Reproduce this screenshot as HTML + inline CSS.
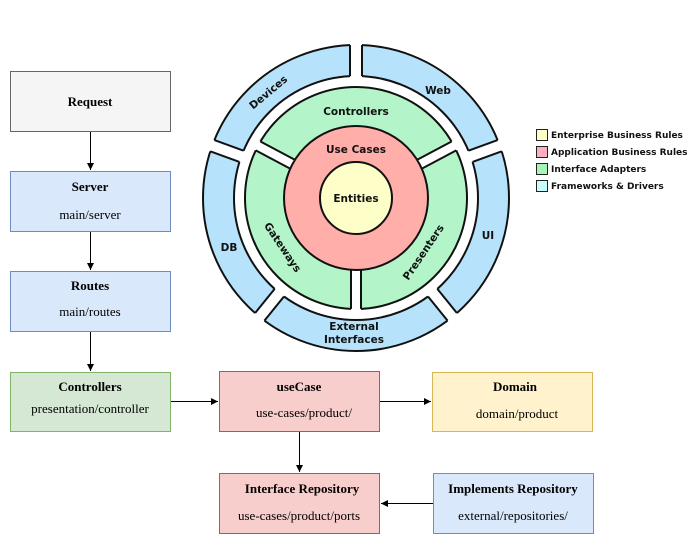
<!DOCTYPE html>
<html><head><meta charset="utf-8"><style>
body{margin:0;background:#fff;}
svg{display:block;}
.t{font-family:"Liberation Serif",serif;font-size:13px;text-anchor:middle;fill:#000;}
.b{font-weight:bold;}
.o{font-family:"DejaVu Sans",sans-serif;font-weight:bold;font-size:10.5px;text-anchor:middle;fill:#111;}
.l{font-family:"DejaVu Sans",sans-serif;font-weight:bold;font-size:9px;fill:#111;}
</style></head><body>
<svg width="699" height="544" viewBox="0 0 699 544" xmlns="http://www.w3.org/2000/svg">
<defs>
<marker id="a" markerWidth="8" markerHeight="8" refX="7" refY="4" orient="auto" markerUnits="userSpaceOnUse"><path d="M0,0.5 L7,4 L0,7.5 Z" fill="#000"/></marker>
<g id="bg">
<rect x="470" y="192" width="48" height="12" fill="#fff"/>
<line x1="477.85" y1="192" x2="508.88" y2="192" stroke="#111" stroke-width="2"/>
<line x1="477.85" y1="204" x2="508.88" y2="204" stroke="#111" stroke-width="2"/>
</g>
<g id="gg">
<rect x="400" y="193" width="72" height="10" fill="#fff"/>
<line x1="400" y1="193" x2="466.89" y2="193" stroke="#111" stroke-width="2"/>
<line x1="400" y1="203" x2="466.89" y2="203" stroke="#111" stroke-width="2"/>
</g>
</defs>
<!-- blue ring -->
<circle cx="356" cy="198" r="153" fill="#b6e3fb" stroke="#111" stroke-width="2"/>
<circle cx="356" cy="198" r="122" fill="#fff" stroke="#111" stroke-width="2"/>
<use href="#bg" transform="rotate(-90 356 198)"/>
<use href="#bg" transform="rotate(-20 356 198)"/>
<use href="#bg" transform="rotate(-160 356 198)"/>
<use href="#bg" transform="rotate(129 356 198)"/>
<use href="#bg" transform="rotate(51 356 198)"/>
<!-- green ring -->
<circle cx="356" cy="198" r="111" fill="#b3f5c8" stroke="#111" stroke-width="2"/>
<use href="#gg" transform="rotate(-28 356 198)"/>
<use href="#gg" transform="rotate(-152 356 198)"/>
<use href="#gg" transform="rotate(90 356 198)"/>
<circle cx="356" cy="198" r="72" fill="#ffaeaa" stroke="#111" stroke-width="2"/>
<circle cx="356" cy="198" r="36" fill="#fefec8" stroke="#111" stroke-width="2"/>
<text class="o" x="356" y="115">Controllers</text>
<text class="o" x="356" y="153">Use Cases</text>
<text class="o" x="356" y="202">Entities</text>
<text class="o" x="438" y="94">Web</text>
<text class="o" x="229" y="251">DB</text>
<text class="o" x="488" y="239">UI</text>
<text class="o" x="354" y="330">External</text>
<text class="o" x="354" y="343">Interfaces</text>
<text class="o" transform="translate(268,92) rotate(-40)" y="4">Devices</text>
<text class="o" transform="translate(283,247) rotate(56)" y="4">Gateways</text>
<text class="o" transform="translate(423,252) rotate(-56)" y="4">Presenters</text>
<!-- legend -->
<g stroke="#222" stroke-width="1">
<rect x="536.5" y="129.5" width="11" height="11" fill="#fefec8"/>
<rect x="536.5" y="146.5" width="11" height="11" fill="#ffaec0"/>
<rect x="536.5" y="163.5" width="11" height="11" fill="#a8f5b8"/>
<rect x="536.5" y="180.5" width="11" height="11" fill="#c8fcfc"/>
</g>
<text class="l" x="551" y="138">Enterprise Business Rules</text>
<text class="l" x="551" y="155">Application Business Rules</text>
<text class="l" x="551" y="172">Interface Adapters</text>
<text class="l" x="551" y="189">Frameworks &amp; Drivers</text>
<!-- boxes -->
<rect x="10.5" y="71.5" width="160" height="60" fill="#f5f5f5" stroke="#666"/>
<text class="t b" x="90" y="106" fill="#333">Request</text>
<rect x="10.5" y="171.5" width="160" height="60" fill="#dae8fc" stroke="#6c8ebf"/>
<text class="t b" x="90" y="191">Server</text><text class="t" x="90" y="219">main/server</text>
<rect x="10.5" y="271.5" width="160" height="60" fill="#dae8fc" stroke="#6c8ebf"/>
<text class="t b" x="90" y="290">Routes</text><text class="t" x="90" y="316">main/routes</text>
<rect x="10.5" y="372.5" width="160" height="59" fill="#d5e8d4" stroke="#82b366"/>
<text class="t b" x="90" y="391">Controllers</text><text class="t" x="90" y="413">presentation/controller</text>
<rect x="219.5" y="371.5" width="160" height="60" fill="#f8cecc" stroke="#b85450"/>
<text class="t b" x="299" y="391">useCase</text><text class="t" x="304" y="417">use-cases/product/</text>
<rect x="432.5" y="372.5" width="160" height="59" fill="#fff2cc" stroke="#d6b656"/>
<text class="t b" x="515" y="391">Domain</text><text class="t" x="517" y="418">domain/product</text>
<rect x="219.5" y="473.5" width="160" height="60" fill="#f8cecc" stroke="#b85450"/>
<text class="t b" x="302" y="493">Interface Repository</text><text class="t" x="299" y="520">use-cases/product/ports</text>
<rect x="433.5" y="473.5" width="160" height="60" fill="#dae8fc" stroke="#6c8ebf"/>
<text class="t b" x="513" y="493">Implements Repository</text><text class="t" x="513" y="520">external/repositories/</text>
<!-- arrows -->
<g stroke="#000" stroke-width="1" fill="none" marker-end="url(#a)">
<line x1="90.5" y1="132" x2="90.5" y2="170"/>
<line x1="90.5" y1="232" x2="90.5" y2="270"/>
<line x1="90.5" y1="332" x2="90.5" y2="371"/>
<line x1="171" y1="401.5" x2="218" y2="401.5"/>
<line x1="380" y1="401.5" x2="431" y2="401.5"/>
<line x1="299.5" y1="432" x2="299.5" y2="472"/>
<line x1="433" y1="503.5" x2="381" y2="503.5"/>
</g>
</svg>
</body></html>
